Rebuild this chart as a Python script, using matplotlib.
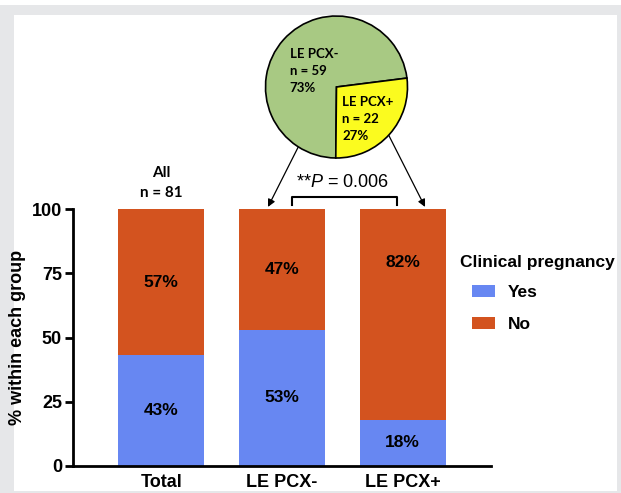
import numpy as np
import matplotlib.pyplot as plt
from matplotlib.patches import Rectangle

plt.rcParams['font.family'] = ['Liberation Sans', 'DejaVu Sans']
plt.rcParams['mathtext.fontset'] = 'custom'
plt.rcParams['mathtext.it'] = 'Liberation Sans:italic'
plt.rcParams['mathtext.rm'] = 'Liberation Sans'

# data
groups = ['Total', 'LE PCX-', 'LE PCX+']
yes_pct = [43, 53, 18]
no_pct = [57, 47, 82]
pie_labels = ['LE PCX-', 'LE PCX+']
pie_n = [59, 22]
pie_pct = [73, 27]
total_n = 81
p_value = 0.006

blue = '#6787f2'
orange = '#d3531f'
green = '#a8c983'
yellow = '#fbfb1f'
frame_grey = '#e6e7e9'

W, H = 621, 493
fig = plt.figure(figsize=(W / 100, H / 100), dpi=100, facecolor='white')
# grey frame with white panel inside
fig.patches.append(Rectangle((0, 0), 1, (H - 5) / H, transform=fig.transFigure,
                             facecolor=frame_grey, edgecolor='none', zorder=-3))
fig.patches.append(Rectangle((14 / W, (H - 491) / H), (617 - 14) / W, (491 - 15) / H,
                             transform=fig.transFigure, facecolor='white',
                             edgecolor='none', zorder=-2))


def box(x0, y0, x1, y1):
    # pixel box (top-left origin) -> figure fraction
    return [x0 / W, (H - y1) / H, (x1 - x0) / W, (y1 - y0) / H]


ax = fig.add_axes(box(73, 209, 491, 466))
ax.set_facecolor('none')
x = np.arange(len(groups))
ax.bar(x, yes_pct, width=0.71, color=blue, label='Yes')
ax.bar(x, no_pct, width=0.71, bottom=yes_pct, color=orange, label='No')
ax.set_xlim(-0.73, 2.73)
ax.set_ylim(0, 100)

for i in range(len(groups)):
    y_no = yes_pct[i] + no_pct[i] / 2
    if no_pct[i] > 70:
        y_no = 79
    ax.text(x[i], yes_pct[i] / 2, f'{yes_pct[i]}%', ha='center', va='center',
            fontsize=12.5, fontweight='bold')
    ax.text(x[i], y_no, f'{no_pct[i]}%', ha='center', va='center',
            fontsize=12.5, fontweight='bold')

for s in ['top', 'right']:
    ax.spines[s].set_visible(False)
for s in ['left', 'bottom']:
    ax.spines[s].set_linewidth(2)
ax.set_yticks([0, 25, 50, 75, 100])
ax.set_xticks(x)
ax.set_xticklabels(groups)
ax.tick_params(axis='y', length=6, width=2, labelsize=13, pad=2)
ax.tick_params(axis='x', length=0, labelsize=13, pad=6)
for lab in ax.get_xticklabels() + ax.get_yticklabels():
    lab.set_fontweight('bold')
ax.set_ylabel('% within each group', fontsize=13, fontweight='bold', labelpad=4)

# All n
ax.text(0, 110, f'All\nn = {total_n}', ha='center', va='center', fontsize=11,
        fontweight='bold', family=['Lato', 'DejaVu Sans'], linespacing=1.55)

# significance bracket
bx0, bx1 = 1.083, 1.952
ax.plot([bx0, bx0, bx1, bx1], [101.6, 104.7, 104.7, 101.6], color='black', lw=1.5,
        clip_on=False)
ax.text(1.5, 110.5, f'**$P$ = {p_value}', ha='center', va='center', fontsize=13)

# legend
fig.text(460 / W, (H - 262) / H, 'Clinical pregnancy', ha='left', va='center',
         fontsize=12.5, fontweight='bold')
leg = ax.legend(loc='upper left', bbox_to_anchor=(472 / W, (H - 285) / H),
                bbox_transform=fig.transFigure, frameon=False, fontsize=12.5,
                handlelength=1.32, handleheight=0.7, labelspacing=0.97, borderpad=0,
                borderaxespad=0, handletextpad=0.75)
for t in leg.get_texts():
    t.set_fontweight('bold')

# pie
pax = fig.add_axes(box(265.5, 16, 407.5, 158))
pax.pie(pie_n, colors=[green, yellow], startangle=7.2, counterclock=True,
        wedgeprops=dict(edgecolor='black', linewidth=1.2))
pax.set_xlim(-1, 1)
pax.set_ylim(-1, 1)
pie_pos = [(-0.66, 0.22), (0.08, -0.45)]
for i in range(len(pie_labels)):
    pax.text(pie_pos[i][0], pie_pos[i][1],
             f'{pie_labels[i]}\nn = {pie_n[i]}\n{pie_pct[i]}%', ha='left', va='center',
             fontsize=9.5, fontweight='bold', family=['Lato', 'DejaVu Sans'], linespacing=1.5)

# arrows from pie to bars
arrow_tail = [(-0.37, -0.51), (0.65, -0.51)]
arrow_head = [(0.884, 100.8), (2.184, 100.8)]
for t, h in zip(arrow_tail, arrow_head):
    ax.annotate('', xy=h, xycoords='data', xytext=t, textcoords=pax.transData,
                arrowprops=dict(arrowstyle='-|>', color='black', lw=0.9,
                                mutation_scale=11, shrinkA=0, shrinkB=0),
                annotation_clip=False)

fig.savefig('out.png', dpi=100, facecolor=fig.get_facecolor())
